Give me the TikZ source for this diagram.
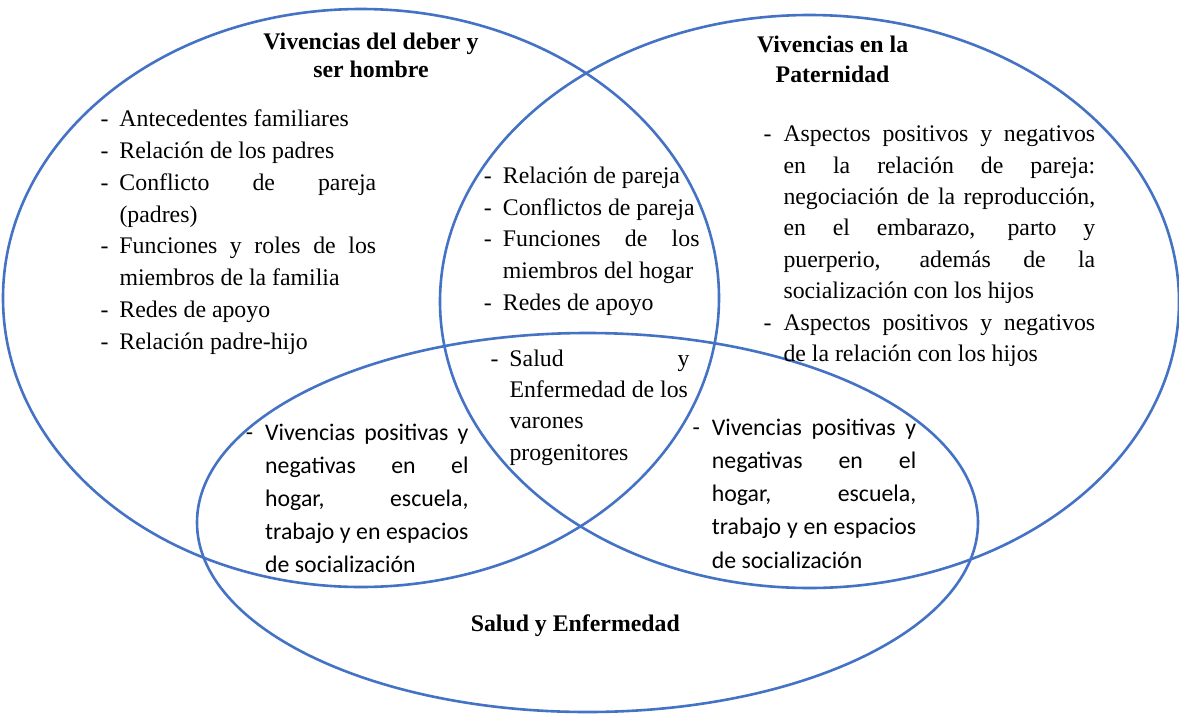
\documentclass[tikz,border=0pt]{standalone}
\usepackage{fontspec}
\setmainfont{Liberation Serif}
\newfontfamily\calfont{Carlito}
\definecolor{vblue}{HTML}{4472C4}
\newcommand{\J}[1]{\makebox[\linewidth][s]{#1}}
\newcommand{\Ln}[1]{\mbox{#1}}
\newcommand{\dsh}[1][11pt]{\leavevmode\llap{-\hspace{#1}}}
\newcommand{\blk}[3]{\parbox[t]{#1}{\fontsize{23.8pt}{#2}\selectfont\lineskiplimit=-\maxdimen #3}}
\newcommand{\ttlbox}[2]{\parbox[t]{330pt}{\centering\fontsize{23.8pt}{#1}\selectfont\bfseries\lineskiplimit=-\maxdimen #2}}
\tikzset{
  ell/.style={draw=vblue, line width=2.6pt},
  txt/.style={inner sep=0pt, anchor=base west},
  ttl/.style={inner sep=0pt, anchor=base}
}
\begin{document}
\begin{tikzpicture}[x=1pt,y=-1pt]
\useasboundingbox (0,0) rectangle (1179,713);
% circles
\draw[ell] (361,298) ellipse [x radius=358pt, y radius=289pt];
\draw[ell] (809.5,301.5) ellipse [x radius=369.5pt, y radius=286.5pt];
\draw[ell] (587.5,522.5) ellipse [x radius=390.5pt, y radius=189.5pt];
% titles
\node[ttl] (tA) at (371,49) {\ttlbox{28pt}{Vivencias del deber y\\ser hombre}};
\node[ttl] (tB) at (832.6,52) {\ttlbox{30pt}{Vivencias en la\\Paternidad}};
\node[ttl] (tC) at (575.3,631.7) {\ttlbox{28pt}{Salud y Enfermedad}};
% left block
\node[txt] (bA) at (119.3,126.7) {\blk{256.7pt}{31.8pt}{%
\dsh\Ln{Antecedentes familiares}\\
\dsh\Ln{Relación de los padres}\\
\dsh\J{Conflicto de pareja}\\
\Ln{(padres)}\\
\dsh\J{Funciones y roles de los}\\
\Ln{miembros de la familia}\\
\dsh\Ln{Redes de apoyo}\\
\dsh\Ln{Relación padre-hijo}}};
% middle block
\node[txt] (bB) at (502.7,183.3) {\blk{196.6pt}{31.7pt}{%
\dsh\Ln{Relación de pareja}\\
\dsh\Ln{Conflictos de pareja}\\
\dsh\J{Funciones de los}\\
\Ln{miembros del hogar}\\
\dsh\Ln{Redes de apoyo}}};
% centre block
\node[txt] (bC) at (509.3,366.7) {\blk{180pt}{31.1pt}{%
\dsh\J{Salud y}\\
\Ln{Enfermedad de los}\\
\Ln{varones}\\
\Ln{progenitores}}};
% right block
\node[txt] (bD) at (783.3,141.7) {\blk{311.7pt}{31.43pt}{%
\dsh[12pt]\J{Aspectos positivos y negativos}\\
\J{en la relación de pareja:}\\
\J{negociación de la reproducción,}\\
\J{en el embarazo, parto y}\\
\J{puerperio, además de la}\\
\Ln{socialización con los hijos}\\
\dsh[12pt]\J{Aspectos positivos y negativos}\\
\Ln{de la relación con los hijos}}};
% lower left block
\node[txt] (bE) at (265,440) {\blk{203.3pt}{33.2pt}{\calfont
\dsh[12pt]\J{Vivencias positivas y}\\
\J{negativas en el}\\
\J{hogar, escuela,}\\
\J{trabajo y en espacios}\\
\Ln{de socialización}}};
% lower right block
\node[txt] (bF) at (711.7,435) {\blk{204.3pt}{33.3pt}{\calfont
\dsh[12pt]\J{Vivencias positivas y}\\
\J{negativas en el}\\
\J{hogar, escuela,}\\
\J{trabajo y en espacios}\\
\Ln{de socialización}}};
\end{tikzpicture}
\end{document}
